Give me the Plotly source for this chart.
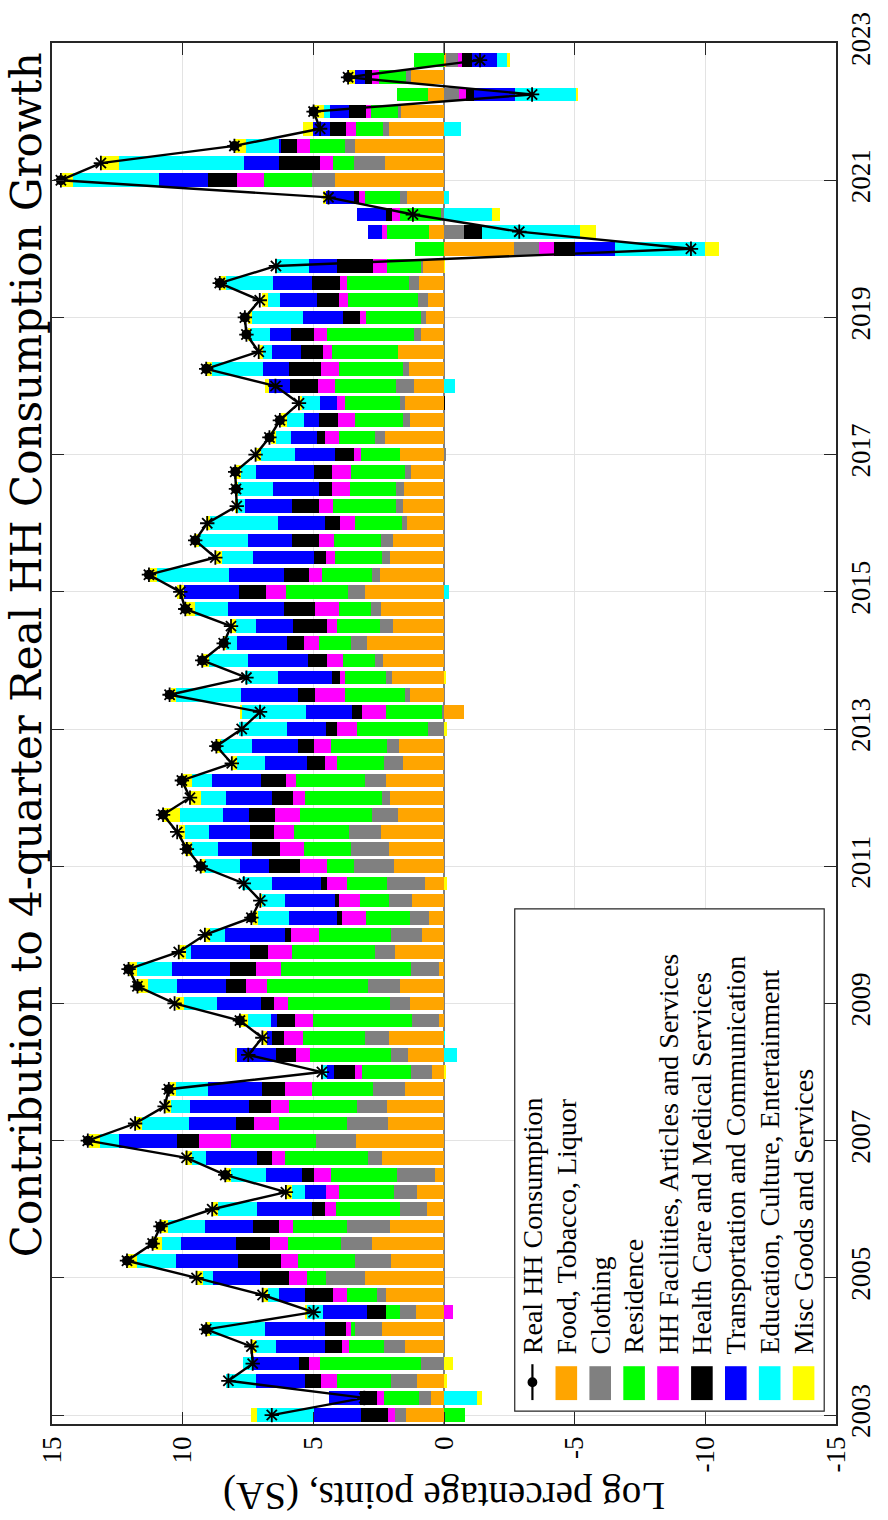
import plotly.graph_objects as go

# Quarterly periods, 2003Q1 .. 2022Q4, as decimal years
years = list(range(2003, 2023))
quarter_offsets = [0.0, 0.25, 0.5, 0.75]
periods = [y + q for y in years for q in quarter_offsets]

# Contributions to 4-quarter growth (log percentage points, SA)
food = [1.45, 0.51, 1.05, 0.00, 1.48, 2.36, 1.09, 2.21, 3.01, 2.04,
        2.74, 2.07, 0.64, 1.04, 0.33, 2.39, 3.38, 2.13, 2.18, 1.50,
        0.46, 1.39, 2.09, 0.20, 1.30, 1.69, 0.20, 1.87, 0.85, 0.56,
        1.22, 0.74, 1.90, 2.11, 2.43, 1.75, 2.08, 2.23, 1.55, 1.73,
        0.00, -0.75, 1.29, 1.98, 2.33, 2.94, 1.95, 2.42, 3.03, 2.44,
        2.06, 1.95, 1.42, 1.57, 1.54, 1.25, 1.70, 2.26, 1.32, 1.50,
        1.13, 1.33, 1.77, 0.89, 0.70, 0.63, 0.94, 0.79, -2.69, 0.56,
        0.00, 1.42, 4.17, 2.26, 3.42, 2.11, 1.64, 0.63, 1.27, -0.09]
clothing = [0.44, 0.44, 0.96, 0.88, 0.80, 1.04, 0.58, 0.36, 1.50, 1.38,
            1.22, 1.63, 1.03, 0.89, 1.45, 0.53, 1.52, 1.60, 1.14, 1.23,
            0.79, 0.65, 0.93, 1.03, 0.78, 1.20, 1.08, 0.78, 1.19, 0.75,
            0.90, 1.45, 1.53, 1.44, 1.22, 1.00, 0.30, 0.79, 0.73, 0.46,
            0.60, 0.06, 0.21, 0.24, 0.30, 0.60, 0.50, 0.38, 0.66, 0.31,
            0.33, 0.46, 0.19, 0.25, 0.30, 0.23, -0.05, 0.38, 0.23, 0.19,
            0.69, 0.25, 0.00, 0.25, 0.18, 0.35, 0.41, 0.09, -0.96, -0.78,
            0.10, 0.25, 0.90, 1.19, 0.38, 0.23, 0.11, -0.59, 0.18, -0.44]
residence = [-0.81, 1.33, 2.08, 3.87, 1.34, 0.15, 0.55, 1.15, 0.73, 2.16,
             2.01, 2.07, 2.46, 2.09, 2.56, 3.17, 3.25, 2.57, 2.61, 2.34,
             1.87, 3.10, 2.36, 3.80, 3.88, 3.88, 4.97, 3.17, 2.76, 1.67,
             1.08, 1.54, 1.05, 1.82, 2.09, 2.76, 2.94, 2.64, 1.80, 2.14,
             2.73, 2.17, 2.29, 1.55, 1.25, 1.23, 1.65, 1.23, 2.37, 1.92,
             1.79, 1.80, 1.78, 2.42, 1.74, 2.09, 1.48, 1.38, 1.85, 2.11,
             2.36, 2.44, 2.51, 3.33, 2.09, 2.69, 2.38, 1.29, 1.10, 1.64,
             1.60, 1.34, 1.82, 0.81, 1.34, 1.03, 1.04, 1.17, 1.02, 1.13]
hh_facilities = [0.25, 0.28, 0.61, 0.40, 0.29, 0.19, -0.34, 0.51, 0.71, 0.66,
                 0.70, 0.55, 0.43, 0.50, 0.65, 0.51, 1.23, 0.96, 0.69, 1.00,
                 0.30, 0.54, 0.76, 0.66, 0.55, 0.81, 0.93, 0.90, 1.07, 0.94,
                 0.83, 0.73, 1.03, 0.90, 0.78, 0.95, 0.44, 0.39, 0.49, 0.63,
                 0.75, 0.90, 1.15, 0.21, 0.58, 0.60, 0.38, 0.90, 0.74, 0.50,
                 0.33, 0.58, 0.58, 0.53, 0.71, 0.71, 0.25, 0.54, 0.65, 0.31,
                 0.66, 0.70, 0.35, 0.49, 0.25, 0.34, 0.25, 0.54, -0.56, 0.18,
                 0.30, 0.23, 1.02, 0.48, 0.48, 0.38, 0.21, -0.27, 0.28, -0.16]
health = [1.05, 0.64, 0.60, 0.40, 0.66, 0.81, 0.73, 1.09, 1.08, 1.63,
          1.28, 0.99, 0.49, 0.00, 0.44, 0.55, 0.83, 0.71, 0.83, 0.89,
          0.80, 0.73, 0.43, 0.71, 0.51, 0.76, 0.99, 0.70, 0.23, 0.19,
          0.14, 0.25, 1.17, 1.07, 0.89, 0.99, 0.83, 0.95, 0.68, 0.61,
          0.43, 0.38, 0.63, 0.29, 0.74, 0.65, 1.28, 1.18, 1.03, 0.96,
          0.46, 1.04, 0.59, 1.03, 0.49, 0.69, 0.74, 0.31, 0.75, -0.03,
          1.07, 1.22, 0.84, 0.91, 0.64, 0.85, 1.07, 1.38, -0.81, -0.66,
          0.23, 0.19, 1.13, 1.58, 0.65, 0.63, 0.63, -0.27, 0.29, -0.38]
transport = [1.79, 1.19, 1.90, 1.77, 1.87, 2.31, 1.69, 0.99, 1.82, 2.39,
             2.13, 1.84, 2.12, 0.79, 1.38, 1.97, 2.24, 1.78, 2.26, 2.07,
             0.26, 1.53, 0.21, 0.21, 1.65, 1.87, 2.22, 2.28, 2.29, 1.83,
             1.90, 1.89, 1.13, 1.32, 1.60, 1.00, 1.75, 1.87, 1.59, 1.78,
             1.49, 1.78, 2.21, 2.09, 2.29, 1.90, 1.45, 2.17, 2.11, 2.11,
             2.34, 1.68, 1.78, 1.80, 1.77, 2.24, 1.52, 0.98, 0.54, 0.65,
             0.78, 1.00, 1.12, 0.78, 1.55, 1.43, 1.49, 1.07, -1.53, 0.51,
             1.10, 1.09, 1.88, 1.34, 0.06, 0.65, 0.73, -1.60, 0.38, -0.96]
education = [2.19, -1.28, 1.15, 0.39, 0.75, 2.09, 0.60, 0.41, 0.38, 1.50,
             0.73, 1.40, 1.47, 0.50, 1.34, 0.53, 0.71, 1.79, 0.75, 1.24,
             0.23, -0.50, -0.02, 0.88, 1.29, 1.12, 1.37, 0.18, 0.56, 1.18,
             0.93, 1.14, 1.34, 1.00, 0.91, 1.65, 0.94, 0.78, 1.07, 1.20,
             1.84, 2.46, 2.47, 1.25, 1.50, 0.41, 0.74, 1.25, -0.19, 2.76,
             1.19, 1.85, 2.61, 0.28, 1.34, 0.55, 1.33, 0.59, 0.68, 0.66,
             -0.43, 1.95, 0.35, 0.75, 1.92, 0.45, 1.79, 1.25, -3.43, -3.75,
             -1.82, -0.20, 3.29, 4.77, 1.25, -0.65, 0.23, -2.32, 0.00, -0.38]
misc = [0.21, -0.16, -0.13, -0.36, 0.18, 0.15, 0.09, 0.21, 0.25, 0.36,
        0.35, 0.30, 0.25, 0.25, 0.23, 0.25, 0.41, 0.26, 0.24, 0.23,
        -0.06, 0.05, 0.15, 0.31, 0.30, 0.39, 0.31, 0.25, 0.24, 0.19,
        0.04, -0.13, 0.16, 0.25, 0.23, 0.64, 0.44, 0.35, 0.21, 0.15,
        -0.13, 0.06, 0.19, -0.06, 0.25, 0.08, 0.20, 0.35, 0.28, 0.29,
        0.25, 0.19, 0.16, 0.10, 0.06, 0.23, 0.20, 0.19, 0.23, 0.10,
        0.15, 0.20, 0.16, 0.10, 0.16, 0.23, 0.23, -0.02, -0.53, -0.63,
        -0.33, 0.10, 0.41, 0.71, 0.41, 0.35, 0.38, -0.09, 0.23, -0.10]

# Real household consumption, 4-quarter log growth
real_hh = [6.59, 3.05, 8.25, 7.32, 7.37, 9.10, 4.99, 6.94, 9.47, 12.13,
           11.15, 10.85, 8.87, 6.05, 8.37, 9.85, 13.63, 11.82, 10.69, 10.53,
           4.67, 7.49, 6.95, 7.81, 10.31, 11.73, 12.07, 10.15, 9.15, 7.37,
           7.03, 7.66, 9.31, 9.84, 10.21, 10.75, 9.72, 10.03, 8.12, 8.71,
           7.74, 7.04, 10.50, 7.56, 9.25, 8.43, 8.15, 9.90, 10.09, 11.29,
           8.75, 9.52, 9.06, 7.93, 7.96, 7.99, 7.21, 6.68, 6.28, 5.55,
           6.45, 9.10, 7.09, 7.56, 7.62, 7.05, 8.58, 6.43, -9.45, -2.88,
           1.19, 4.42, 14.66, 13.13, 8.02, 4.74, 4.99, -3.37, 3.67, -1.38]

# Periods drawn with a filled dot on top of the asterisk
dot_periods = [2004.25, 2005.25, 2005.5, 2005.75, 2006.5, 2007.0, 2007.75,
               2008.75, 2009.25, 2009.5, 2010.25, 2011.0, 2011.25, 2011.75,
               2012.25, 2012.75, 2013.5, 2014.0, 2014.25, 2014.75, 2015.25,
               2015.75, 2016.5, 2016.75, 2017.25, 2017.5, 2018.25, 2018.75,
               2019.0, 2019.5, 2021.0, 2021.5, 2022.0, 2022.5]

components = [
    ("Food, Tobacco, Liquor", food, "#FFA500"),
    ("Clothing", clothing, "#808080"),
    ("Residence", residence, "#00FF00"),
    ("HH Facilities, Articles and Services", hh_facilities, "#FF00FF"),
    ("Health Care and Medical Services", health, "#000000"),
    ("Transportation and Communication", transport, "#0000FF"),
    ("Education, Culture, Entertainment", education, "#00FFFF"),
    ("Misc Goods and Services", misc, "#FFFF00"),
]

W, H = 888, 1520
ML, MR, MT, MB = 52, 38, 38, 96
PW, PH = W - ML - MR, H - MT - MB
FONT = "Liberation Serif"
TITLE_FONT = "DejaVu Serif"


def px(xp):
    return (xp - ML) / PW


def py(yp):
    return 1 - (yp - MT) / PH


fig = go.Figure()

for name, vals, color in components:
    fig.add_trace(go.Bar(
        x=vals, y=periods, orientation="h", name=name, width=0.2,
        marker=dict(color=color, line=dict(width=0)), showlegend=False,
    ))

fig.add_trace(go.Scatter(
    x=real_hh, y=periods, mode="lines+markers", name="Real HH Consumption",
    line=dict(color="black", width=2.4),
    marker=dict(symbol="asterisk-open", size=12, color="black",
                line=dict(color="black", width=1.8)),
    showlegend=False,
))
dot_x = [v for p, v in zip(periods, real_hh) if p in dot_periods]
dot_y = [p for p in periods if p in dot_periods]
fig.add_trace(go.Scatter(
    x=dot_x, y=dot_y, mode="markers",
    marker=dict(symbol="circle", size=10, color="black"),
    showlegend=False, hoverinfo="skip",
))

fig.update_layout(
    width=W, height=H, margin=dict(l=ML, r=MR, t=MT, b=MB),
    paper_bgcolor="white", plot_bgcolor="white",
    barmode="relative", bargap=0,
    font=dict(family=FONT, color="black", size=27),
    showlegend=False,
)
fig.update_xaxes(
    range=[15, -15], tickvals=[-15, -10, -5, 0, 5, 10, 15],
    ticktext=["-15", "-10", "-5", "0", "5", "10", "15"],
    tickangle=-90, ticks="inside", ticklen=12, tickcolor="#262626",
    mirror="allticks", showline=True, linecolor="#262626", linewidth=1.5,
    showgrid=True, gridcolor="#E3E3E3", gridwidth=1,
    zeroline=True, zerolinecolor="#808080", zerolinewidth=2,
    tickfont=dict(size=27, family=FONT),
)
fig.update_yaxes(
    range=[2002.87, 2023.0], tickvals=list(range(2003, 2024, 2)),
    side="right", tickangle=-90, ticks="inside", ticklen=12,
    tickcolor="#262626", mirror="allticks", showline=True,
    linecolor="#262626", linewidth=1.5,
    showgrid=True, gridcolor="#E3E3E3", gridwidth=1, zeroline=False,
    tickfont=dict(size=27, family=FONT),
)

annotations = [
    dict(text="Contribution to 4-quarter Real HH Consumption Growth",
         x=px(26), y=py(652), xref="paper", yref="paper", showarrow=False,
         xanchor="center", yanchor="middle",
         textangle=-90, font=dict(size=42, family=TITLE_FONT)),
    dict(text="Log percentage points, (SA)",
         x=px(451), y=py(1497), xref="paper", yref="paper", showarrow=False,
         xanchor="center", yanchor="middle",
         textangle=180, font=dict(size=39, family=FONT)),
]
shapes = []

# Legend box
LX0, LX1, LY0, LY1 = 523, 838, 907, 1411
shapes.append(dict(type="rect", xref="paper", yref="paper",
                   x0=px(LX0), x1=px(LX1), y0=py(LY1), y1=py(LY0),
                   fillcolor="white", line=dict(color="#262626", width=1.2),
                   layer="above"))

col0, dcol = 541, 34.5
text_base = 1356
entries = [("Real HH Consumption", None)] + [(n, c) for n, _, c in components]
for i, (label, color) in enumerate(entries):
    cx = col0 + dcol * i
    if color is None:
        shapes.append(dict(type="line", xref="paper", yref="paper",
                           x0=px(cx), x1=px(cx), y0=py(1400), y1=py(1364),
                           line=dict(color="black", width=2.2), layer="above"))
        shapes.append(dict(type="circle", xref="paper", yref="paper",
                           x0=px(cx - 5), x1=px(cx + 5), y0=py(1387), y1=py(1377),
                           fillcolor="black", line=dict(width=0), layer="above"))
    else:
        shapes.append(dict(type="rect", xref="paper", yref="paper",
                           x0=px(cx - 11), x1=px(cx + 11), y0=py(1400), y1=py(1366),
                           fillcolor=color, line=dict(width=0), layer="above"))
    annotations.append(dict(text=label, x=px(cx), y=py(text_base),
                            xref="paper", yref="paper", showarrow=False,
                            textangle=-90, xanchor="center", yanchor="bottom",
                            font=dict(size=28, family=FONT)))

fig.update_layout(annotations=annotations, shapes=shapes)
fig.write_html("out.html")
